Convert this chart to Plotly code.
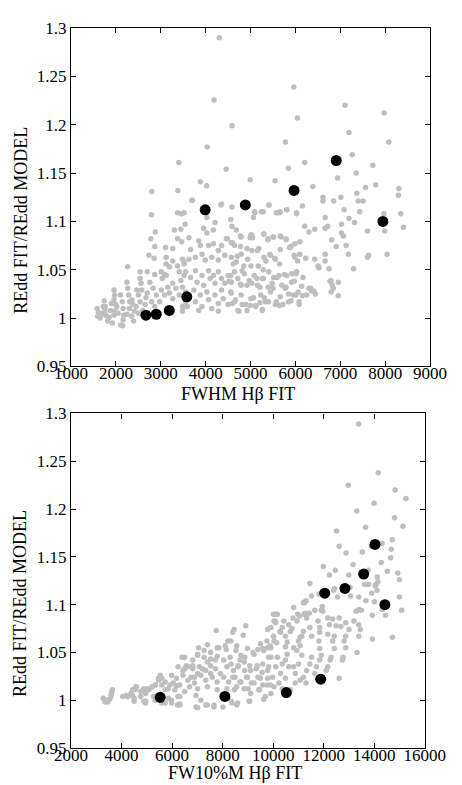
import plotly.graph_objects as go

# ---------------- data ----------------
# black highlighted sample (same objects in both panels)
sample_fwhm = [2670, 2900, 3190, 3580, 3990, 4885, 5970, 6910, 7950]
sample_fw10 = [5530, 8090, 10520, 11880, 12040, 12840, 13580, 14030, 14420]
sample_ratio = [1.003, 1.004, 1.008, 1.022, 1.112, 1.117, 1.132, 1.163, 1.100]

# grey population, top panel: (FWHM, ratio)
top_gray_points = [
    (4305, 1.290), (4188, 1.2255), (4035, 1.177), (3403, 1.161), (4457, 1.154), (3882, 1.141), (4022, 1.137),
    (2802, 1.131), (3381, 1.132), (3695, 1.122), (4355, 1.118),
    (4588, 1.199), (5967, 1.239), (6048, 1.207), (7107, 1.220), (7978, 1.212), (7194, 1.192), (5778, 1.182),
    (8081, 1.182), (7267, 1.169), (6207, 1.161), (7725, 1.158), (5844, 1.155), (7355, 1.150), (6941, 1.145),
    (4993, 1.143), (5547, 1.142), (6388, 1.136), (7791, 1.138), (7564, 1.135), (8305, 1.134), (8298, 1.127),
    (7369, 1.129), (6614, 1.125), (6614, 1.121), (6854, 1.121), (7013, 1.125), (7399, 1.121), (7508, 1.121),
    (5416, 1.117), (6157, 1.116),
    (5089, 1.110), (5285, 1.110), (5575, 1.109), (5647, 1.109), (5808, 1.112), (6026, 1.108), (6664, 1.104),
    (7085, 1.112), (7194, 1.103), (7318, 1.099), (7434, 1.110), (7972, 1.108), (7993, 1.090), (8044, 1.066),
    (8349, 1.108), (8407, 1.094), (7608, 1.090), (7630, 1.065), (7608, 1.063), (7296, 1.051), (6954, 1.037),
    (6207, 1.095), (6431, 1.092), (6301, 1.089), (6664, 1.093), (6723, 1.095), (7028, 1.097), (7028, 1.088),
    (6810, 1.081), (6911, 1.074), (7129, 1.075), (7072, 1.085), (7180, 1.066), (6795, 1.039), (6098, 1.079),
    (5974, 1.065), (6229, 1.062), (6431, 1.061), (6664, 1.066), (6664, 1.059), (6752, 1.051), (6527, 1.052),
    (6505, 1.054), (6773, 1.038), (6824, 1.034), (6795, 1.027), (6845, 1.031), (6301, 1.031), (6344, 1.031),
    (6170, 1.042), (6141, 1.033), (6011, 1.046), (5924, 1.046), (5974, 1.038), (6011, 1.024), (6083, 1.017),
    (6157, 1.023), (6251, 1.024), (6360, 1.028), (6410, 1.028), (6447, 1.025), (6954, 1.023), (6083, 1.014),
    (5634, 1.044), (5517, 1.042), (5756, 1.045), (5793, 1.032), (5851, 1.025), (5902, 1.018), (5721, 1.014),
    (5647, 1.013), (5575, 1.017), (5503, 1.031), (5401, 1.017), (5307, 1.021), (5263, 1.009), (5212, 1.016),
    (5111, 1.013), (5067, 1.021), (4993, 1.013), (4922, 1.008), (4813, 1.014), (4741, 1.007), (4667, 1.019),
    (4595, 1.015), (4558, 1.027), (4523, 1.038),
    (4486, 1.082), (4595, 1.078), (4776, 1.085), (4993, 1.083), (5031, 1.086), (4776, 1.074), (4922, 1.072),
    (5031, 1.070), (5183, 1.072), (5298, 1.087), (5394, 1.082), (5503, 1.084), (5684, 1.084), (5793, 1.081),
    (5902, 1.074), (5989, 1.077), (6098, 1.066), (6048, 1.059), (5866, 1.073), (5430, 1.066), (5343, 1.059),
    (5539, 1.062), (5648, 1.056), (5285, 1.050), (5176, 1.054), (5140, 1.041), (4850, 1.054), (4813, 1.049),
    (4704, 1.064), (4617, 1.056), (4558, 1.044), (4776, 1.035), (4922, 1.034), (5031, 1.036), (5212, 1.032),
    (5394, 1.032), (5285, 1.041),
    (2794, 1.107), (3375, 1.109), (3462, 1.108), (3303, 1.091), (3447, 1.092), (2880, 1.089), (2780, 1.082),
    (3375, 1.082), (3468, 1.079), (2867, 1.074), (3107, 1.073), (3266, 1.072), (2736, 1.065), (2852, 1.062),
    (3120, 1.063), (3266, 1.059), (3375, 1.054), (3484, 1.061), (3520, 1.056), (2264, 1.053), (2540, 1.048),
    (2699, 1.048), (2867, 1.045), (3010, 1.048), (3085, 1.045), (2540, 1.041), (2561, 1.036), (2575, 1.029),
    (2248, 1.037), (2264, 1.031), (2285, 1.024), (2307, 1.017), (1959, 1.029), (1974, 1.024), (1959, 1.019),
    (1996, 1.014), (1981, 1.007), (1959, 1.003), (1741, 1.018), (1763, 1.012), (1756, 1.008), (1778, 1.003),
    (1581, 1.010), (1610, 1.006), (1595, 1.002), (1669, 1.003), (2104, 1.024), (2140, 1.017), (2162, 1.010),
    (2176, 1.003), (2162, 0.998), (1814, 0.997), (1922, 0.995), (2104, 0.993), (2358, 1.019), (2380, 1.014),
    (2409, 1.007), (2394, 0.997), (2467, 1.029), (2503, 1.024), (2540, 1.017), (2649, 1.014), (2671, 1.021),
    (2699, 1.026), (2758, 1.037), (2830, 1.031), (2902, 1.024), (2976, 1.017), (2794, 1.017), (2867, 1.012),
    (3011, 1.029), (3085, 1.024), (3157, 1.032), (3194, 1.026), (3266, 1.036), (3266, 1.020), (3338, 1.031),
    (3412, 1.024), (3447, 1.039), (3484, 1.032), (3556, 1.027), (3556, 1.017), (3484, 1.012), (3033, 1.041),
    (3120, 1.044), (3120, 1.056), (3194, 1.053), (3484, 1.007), (3556, 1.012), (3412, 1.048), (3520, 1.044),
    (1650, 1.000), (1700, 1.005), (1720, 1.012), (1850, 1.001), (1880, 1.008), (1900, 1.015), (2050, 1.005),
    (2020, 1.012), (2250, 1.004), (2300, 1.010), (2450, 1.012), (2500, 1.005), (2600, 1.008), (2350, 1.002),
    (2150, 0.992),
    (3702, 1.122), (4340, 1.117), (4588, 1.115), (5407, 1.117), (5603, 1.109), (5662, 1.110), (5808, 1.112),
    (6026, 1.109), (5096, 1.109), (5242, 1.110), (5067, 1.104),
    (3520, 1.109), (3542, 1.097), (4028, 1.104), (4209, 1.099), (4174, 1.091), (3956, 1.093), (4028, 1.088),
    (4558, 1.102), (4588, 1.095), (4682, 1.091), (4791, 1.084), (5009, 1.086), (5046, 1.083), (5298, 1.087),
    (5386, 1.081), (5517, 1.084), (5662, 1.085), (5793, 1.082),
    (3629, 1.083), (3665, 1.071), (3847, 1.080), (3883, 1.075), (4065, 1.075), (4174, 1.077), (4283, 1.070),
    (4355, 1.075), (4464, 1.082), (4573, 1.078), (4645, 1.075),
    (3520, 1.058), (3629, 1.061), (3774, 1.063), (3919, 1.066), (3991, 1.060), (4137, 1.063), (4283, 1.060),
    (4427, 1.065), (4573, 1.063), (4682, 1.058), (4791, 1.066), (4937, 1.061), (5009, 1.054), (5155, 1.070),
    (5298, 1.063), (5444, 1.065), (5553, 1.061), (5662, 1.071), (5880, 1.073), (5989, 1.063),
    (3556, 1.048), (3665, 1.042), (3774, 1.049), (3810, 1.037), (3919, 1.044), (3956, 1.034), (4065, 1.049),
    (4100, 1.041), (4174, 1.044), (4209, 1.036), (4283, 1.048), (4355, 1.041), (4427, 1.036), (4500, 1.044),
    (4573, 1.037), (4645, 1.048), (4718, 1.041), (4791, 1.034), (4863, 1.046), (4972, 1.039), (5081, 1.044),
    (5155, 1.034), (5263, 1.041), (5407, 1.048), (5482, 1.036), (5590, 1.042), (5699, 1.034), (5808, 1.044),
    (5917, 1.037), (6026, 1.048), (6062, 1.027),
    (3629, 1.024), (3738, 1.029), (3774, 1.017), (3883, 1.024), (3919, 1.012), (4028, 1.027), (4065, 1.019),
    (4137, 1.010), (4209, 1.024), (4283, 1.015), (4355, 1.029), (4392, 1.020), (4500, 1.014), (4573, 1.026),
    (4645, 1.017), (4718, 1.008), (4791, 1.024), (4900, 1.014), (5009, 1.020), (5118, 1.012), (5227, 1.024),
    (5336, 1.017), (5444, 1.027), (5553, 1.014), (5662, 1.022), (5771, 1.031), (5844, 1.017), (5953, 1.024),
    (3593, 1.012), (3847, 1.008), (4283, 1.007), (5263, 1.008),
]

# grey population, bottom panel: (FW10%M, ratio)
bottom_gray_points = [
    (13384, 1.289), (14157, 1.238), (12971, 1.225), (14826, 1.220), (15251, 1.211), (13991, 1.206),
    (13307, 1.198), (14802, 1.191), (15135, 1.182), (13655, 1.181), (12508, 1.177), (14710, 1.168),
    (12612, 1.161), (14312, 1.164), (14671, 1.158), (12883, 1.154), (13527, 1.155), (13876, 1.161),
    (14647, 1.149), (13163, 1.142), (11983, 1.140), (12458, 1.136), (12226, 1.131), (12988, 1.131),
    (13760, 1.136), (14275, 1.144), (14516, 1.135), (14930, 1.133), (14995, 1.126), (14119, 1.129),
    (14146, 1.124), (11453, 1.122), (12431, 1.117), (13617, 1.121), (13771, 1.121), (14068, 1.121),
    (12392, 1.115), (12547, 1.108), (13037, 1.118), (13898, 1.112), (13667, 1.104), (14030, 1.120),
    (14107, 1.115), (14003, 1.103), (14995, 1.108), (15084, 1.094), (14440, 1.089), (13924, 1.089),
    (13385, 1.108), (13064, 1.109), (11812, 1.111), (11518, 1.109), (11298, 1.104), (11195, 1.102),
    (10808, 1.097), (11646, 1.094), (11944, 1.098), (11905, 1.094), (11426, 1.091), (11260, 1.091),
    (11325, 1.086), (11040, 1.088), (10939, 1.083), (10062, 1.090), (10166, 1.090), (10035, 1.083),
    (10100, 1.081), (9908, 1.076), (10422, 1.083), (10615, 1.079), (10681, 1.072), (10746, 1.075),
    (10359, 1.076), (10294, 1.071), (10487, 1.067), (10553, 1.061), (10487, 1.056), (10808, 1.055),
    (11001, 1.062), (11132, 1.067), (11194, 1.072), (11453, 1.076), (11518, 1.067), (11774, 1.083),
    (11839, 1.076), (11967, 1.093), (12161, 1.086), (12226, 1.079), (12161, 1.069), (12354, 1.085),
    (12484, 1.078), (12612, 1.086), (12678, 1.077), (12870, 1.081), (12999, 1.074), (13192, 1.083),
    (13281, 1.093), (13385, 1.095), (13489, 1.094), (13385, 1.079), (13451, 1.074), (13385, 1.067),
    (13319, 1.050), (12870, 1.067), (12805, 1.062), (12870, 1.055), (12767, 1.045), (12741, 1.042),
    (12419, 1.067), (12354, 1.062), (12419, 1.054), (12290, 1.045), (12252, 1.042), (12161, 1.035),
    (12098, 1.031), (12612, 1.023), (11839, 1.071), (11812, 1.062), (11839, 1.054), (11905, 1.047),
    (11839, 1.042), (11711, 1.035), (11646, 1.028), (11518, 1.045), (11453, 1.038), (11325, 1.031),
    (11195, 1.024), (11298, 1.018), (11067, 1.066), (11067, 1.057), (10939, 1.052), (11132, 1.047),
    (11001, 1.038), (10808, 1.035), (10873, 1.028), (11067, 1.021), (10553, 1.048), (10487, 1.042),
    (10615, 1.035), (10359, 1.038), (10100, 1.035), (10166, 1.045), (10294, 1.028), (10487, 1.023),
    (10229, 1.018), (10035, 1.014), (10359, 1.012), (10681, 1.011), (10873, 1.018), (9908, 1.055),
    (10035, 1.062), (9908, 1.045), (9972, 1.024), (9908, 1.007), (14312, 1.095), (14714, 1.066),
    (13925, 1.064),
    (7744, 1.073), (8451, 1.074), (8915, 1.078), (8814, 1.068), (9781, 1.074), (7049, 1.055), (7397, 1.058),
    (7784, 1.055), (8104, 1.057), (8324, 1.062), (8556, 1.057), (8143, 1.053), (6392, 1.045), (6817, 1.042),
    (7010, 1.047), (7269, 1.045), (7525, 1.043), (7784, 1.046), (8042, 1.042), (8297, 1.045), (8684, 1.042),
    (8876, 1.045), (9200, 1.050), (9394, 1.053), (9587, 1.054), (9781, 1.055),
    (6238, 1.035), (6559, 1.036), (6817, 1.033), (7076, 1.035), (7331, 1.031), (7525, 1.036), (7717, 1.033),
    (7911, 1.028), (8169, 1.035), (8428, 1.031), (8621, 1.036), (8876, 1.031), (9070, 1.036), (9329, 1.033),
    (9587, 1.038), (9781, 1.031), (5979, 1.026), (6172, 1.023), (6431, 1.026), (6624, 1.021), (6883, 1.024),
    (7138, 1.026), (7331, 1.021), (7590, 1.024), (7783, 1.019), (8042, 1.024), (8235, 1.019), (8490, 1.024),
    (8684, 1.019), (8942, 1.024), (9135, 1.018), (9394, 1.024), (9587, 1.016), (9781, 1.023), (6689, 1.014),
    (7010, 1.012), (7397, 1.014), (7783, 1.011), (8169, 1.012), (8556, 1.014), (9008, 1.012), (9458, 1.011),
    (6238, 1.004), (6496, 1.009), (6945, 1.005), (7138, 1.000), (6945, 0.993), (7397, 0.995), (7655, 0.993),
    (8015, 0.993), (8362, 0.997), (8556, 0.995), (9070, 0.999), (5852, 1.002), (5979, 0.997), (6211, 0.995),
    (6303, 0.996), (5593, 0.997), (4886, 0.999), (4952, 0.997), (4500, 0.999), (5272, 1.004), (4179, 1.005),
    (4241, 1.004), (4372, 1.007), (4434, 1.011), (4564, 1.014), (4758, 1.009), (4886, 1.012), (5013, 1.012),
    (5206, 1.014), (5338, 1.016), (5465, 1.023), (5531, 1.026), (5593, 1.016), (5724, 1.019), (5852, 1.012),
    (6045, 1.018), (6172, 1.015), (6496, 1.033),
    (3275, 1.002), (3406, 1.000), (3533, 1.001), (3598, 1.007), (3637, 1.011), (4047, 1.004), (4241, 1.004),
    (4434, 1.005), (4538, 1.011), (4589, 1.014), (4500, 1.002), (4847, 1.011), (4952, 1.007), (5079, 1.011),
    (5206, 1.014), (5338, 1.016), (5465, 1.021), (5593, 1.023), (4758, 1.004), (4952, 0.999), (5338, 1.000),
    (5724, 0.997), (5979, 1.000), (6303, 0.995), (5724, 1.011), (5917, 1.016), (6110, 1.011), (6303, 1.016),
    (6431, 1.031), (6496, 1.045), (6624, 1.035), (6752, 1.024), (6883, 1.018), (7010, 1.028), (7203, 1.033),
    (7397, 1.040), (7525, 1.028), (7849, 1.055), (7010, 1.048), (7269, 1.052), (7525, 1.050), (7717, 1.042),
    (6817, 1.036), (6303, 1.004), (7010, 0.992), (7331, 0.995), (7655, 0.995),
    (3350, 0.998), (3450, 0.998), (3580, 1.004), (3620, 1.009),
    (8208, 1.062), (8401, 1.071), (8529, 1.052), (8722, 1.047), (8981, 1.054), (9240, 1.048), (9495, 1.059),
    (9754, 1.062), (9626, 1.052), (9819, 1.045), (8336, 1.038), (8595, 1.035), (8853, 1.040), (9108, 1.031),
    (9367, 1.036), (9560, 1.029), (9819, 1.035), (8401, 1.024), (8722, 1.019), (8981, 1.024), (9240, 1.018),
    (9495, 1.023), (9754, 1.016), (8467, 1.011), (8853, 1.012), (9108, 1.007), (9432, 1.011), (9688, 1.004),
    (9881, 1.016), (8336, 0.999), (8595, 0.997), (9047, 0.999), (9626, 1.001), (10012, 1.090), (10140, 1.090),
    (10074, 1.083), (10267, 1.072), (10012, 1.067), (10140, 1.060), (9881, 1.057), (10785, 1.086),
    (10978, 1.090), (11233, 1.102), (11233, 1.090),
]

ratio_ticks = [0.95, 1.0, 1.05, 1.1, 1.15, 1.2, 1.25, 1.3]
ratio_ticktext = ["0.95", "1", "1.05", "1.1", "1.15", "1.2", "1.25", "1.3"]
fwhm_ticks = [1000, 2000, 3000, 4000, 5000, 6000, 7000, 8000, 9000]
fw10_ticks = [2000, 4000, 6000, 8000, 10000, 12000, 14000, 16000]

# ---------------- figure ----------------
GRAY = "#bfbfbf"
FONT = "Liberation Serif"

top_x = [p[0] for p in top_gray_points]
top_y = [p[1] for p in top_gray_points]
bot_x = [p[0] for p in bottom_gray_points]
bot_y = [p[1] for p in bottom_gray_points]

fig = go.Figure()
fig.add_trace(go.Scatter(x=top_x, y=top_y, mode="markers", xaxis="x", yaxis="y",
                         marker=dict(size=5.5, color=GRAY, line=dict(width=0)), hoverinfo="skip"))
fig.add_trace(go.Scatter(x=sample_fwhm, y=sample_ratio, mode="markers", xaxis="x", yaxis="y",
                         marker=dict(size=11, color="black", line=dict(width=0))))
fig.add_trace(go.Scatter(x=bot_x, y=bot_y, mode="markers", xaxis="x2", yaxis="y2",
                         marker=dict(size=5.5, color=GRAY, line=dict(width=0)), hoverinfo="skip"))
fig.add_trace(go.Scatter(x=sample_fw10, y=sample_ratio, mode="markers", xaxis="x2", yaxis="y2",
                         marker=dict(size=11, color="black", line=dict(width=0))))

axis_style = dict(showline=True, linecolor="black", linewidth=1.3, mirror="ticks", ticks="inside",
                  ticklen=5, tickwidth=1.2, tickcolor="black", showgrid=False, zeroline=False,
                  tickfont=dict(family=FONT, size=17, color="black"))

# the page body adds an 8 px offset; positions below are given in window pixels
OFF = 8
W, H = 462 - OFF, 785 - OFF
L, R, T, B = 63, 24, 11, 37
pw, ph = W - L - R, H - T - B


def px_x(x):
    return (x - OFF - L) / pw


def px_y(y):
    return (H - B - (y - OFF)) / ph


fig.update_layout(
    width=W, height=H, showlegend=False,
    margin=dict(l=L, r=R, t=T, b=B),
    paper_bgcolor="white", plot_bgcolor="white",
    xaxis=dict(axis_style, range=[1000, 9000], tickvals=fwhm_ticks, tickformat="d",
               ticklabelstandoff=-9, domain=[max(0, px_x(71)), 1], anchor="y"),
    yaxis=dict(axis_style, range=[0.95, 1.3], tickvals=ratio_ticks, ticktext=ratio_ticktext,
               domain=[px_y(361.7), 1], anchor="x"),
    xaxis2=dict(axis_style, range=[2000, 16000], tickvals=fw10_ticks, tickformat="d",
                ticklabelstandoff=-9, domain=[max(0, px_x(70.3)), px_x(432.7)], anchor="y2"),
    yaxis2=dict(axis_style, range=[0.95, 1.3], tickvals=ratio_ticks, ticktext=ratio_ticktext,
                domain=[0, px_y(409.3)], anchor="x2"),
)

title_font = dict(family=FONT, size=18, color="black")
fig.add_annotation(text="FWHM Hβ FIT", xref="paper", yref="paper", x=px_x(242), y=px_y(390),
                   xanchor="center", yanchor="middle", showarrow=False, font=title_font)
fig.add_annotation(text="FW10%M Hβ FIT", xref="paper", yref="paper", x=px_x(239), y=px_y(785),
                   xanchor="center", yanchor="bottom", showarrow=False, font=title_font)
fig.add_annotation(text="REdd FIT/REdd MODEL", xref="paper", yref="paper", x=px_x(19), y=px_y(214),
                   xanchor="center", yanchor="middle", textangle=-90, showarrow=False, font=title_font)
fig.add_annotation(text="REdd FIT/REdd MODEL", xref="paper", yref="paper", x=px_x(19), y=px_y(602),
                   xanchor="center", yanchor="middle", textangle=-90, showarrow=False, font=title_font)

fig.write_html("out.html")
